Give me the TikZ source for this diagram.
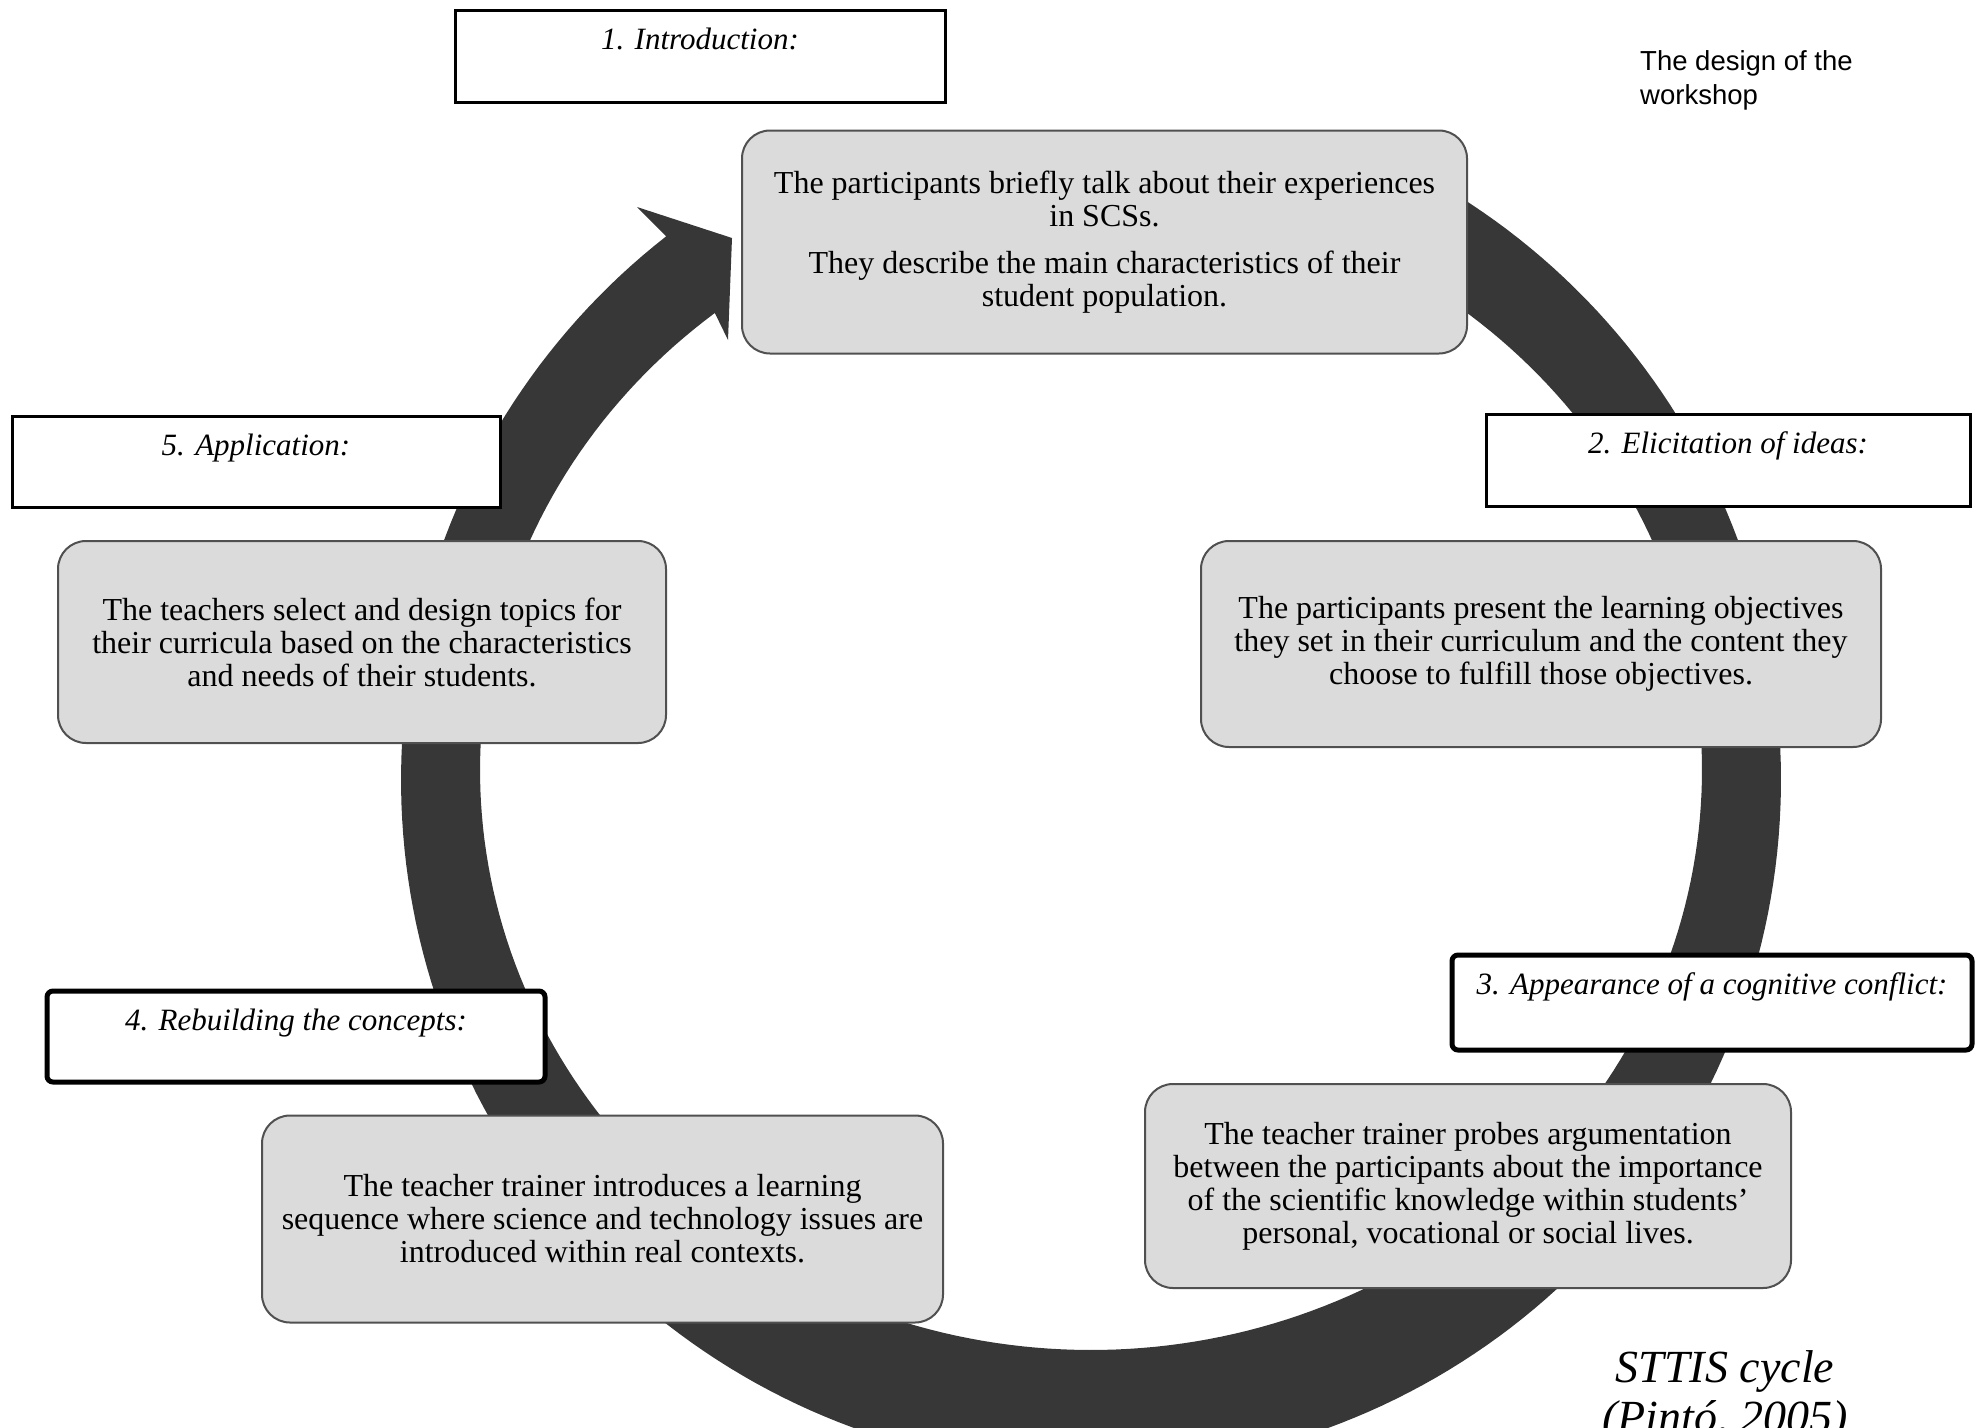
\documentclass[tikz,border=0pt]{standalone}
\usepackage{fontspec}
\setmainfont{Liberation Serif}
\newfontfamily\sansfnt{Liberation Sans}
\definecolor{ringcol}{RGB}{55,55,55}
\definecolor{bodyfill}{RGB}{219,219,219}
\definecolor{bodyline}{RGB}{80,80,80}
\newcommand\bodyfnt{\fontsize{32pt}{33pt}\selectfont}
\newcommand\labfnt{\fontsize{31pt}{35pt}\selectfont\itshape}
\begin{document}
\begin{tikzpicture}[x=1pt,y=-1pt,
  bodybox/.style={draw=bodyline, line width=2pt, fill=bodyfill, rounded corners=28pt,
    align=center, inner sep=0pt, font=\bodyfnt},
  labbox/.style={draw=black, line width=3pt, fill=white, inner sep=0pt,
    text height=39pt, font=\labfnt},
  labthick/.style={labbox, line width=5pt, rounded corners=6pt},
  ringfill/.style={fill=ringcol}]
\path[use as bounding box] (0,0) rectangle (1983,1427);
\clip (0,0) rectangle (1983,1427);

% circular arrow (ring)
\fill[ringfill]
  plot[domain=-68:232, samples=240] ({1091+690*cos(\x)},{780+690*sin(\x)})
  -- (637,207) -- (732,238) -- (728,340)
  -- plot[domain=232:-68, samples=240] ({1091+611*cos(\x)},{770+580*sin(\x)})
  -- cycle;

% body boxes
\node[bodybox, minimum width=725pt, minimum height=223pt] (b1) at (1104.5,242)
  {The participants briefly talk about their experiences\\ in SCSs.\\[14pt]
   They describe the main characteristics of their\\ student population.};
\node[bodybox, minimum width=680pt, minimum height=206pt] (b2) at (1541,644)
  {The participants present the learning objectives\\ they set in their curriculum and the content they\\ choose to fulfill those objectives.};
\node[bodybox, minimum width=646pt, minimum height=204pt] (b3) at (1468,1186)
  {The teacher trainer probes argumentation\\ between the participants about the importance\\ of the scientific knowledge within students’\\ personal, vocational or social lives.};
\node[bodybox, minimum width=681pt, minimum height=207pt] (b4) at (602.5,1219)
  {The teacher trainer introduces a learning\\ sequence where science and technology issues are\\ introduced within real contexts.};
\node[bodybox, minimum width=608pt, minimum height=202pt] (b5) at (362,642)
  {The teachers select and design topics for\\ their curricula based on the characteristics\\ and needs of their students.};

% label boxes
\node[labbox, minimum width=490pt, text depth=53pt] (l1) at (700,56) {1. Introduction:};
\node[labbox, minimum width=484pt, text depth=53pt] (l2) at (1728,460) {2. Elicitation of ideas:};
\node[labthick, minimum width=520pt, text depth=56pt] (l3) at (1712,1002.5) {3. Appearance of a cognitive conflict:};
\node[labthick, minimum width=498pt, text depth=52pt] (l4) at (296,1036.5) {4. Rebuilding the concepts:};
\node[labbox, minimum width=488pt, text depth=52pt] (l5) at (256,461.5) {5. Application:};

% title and source
\node[anchor=base west, align=left, inner sep=0pt,
  font=\sansfnt\fontsize{27.5pt}{34pt}\selectfont] (title) at (1640,104)
  {The design of the\\ workshop};
\node[anchor=base, align=center, inner sep=0pt,
  font=\fontsize{46pt}{50pt}\selectfont\itshape] (src) at (1725,1432)
  {STTIS cycle\\ (Pintó, 2005)};
\end{tikzpicture}
\end{document}
